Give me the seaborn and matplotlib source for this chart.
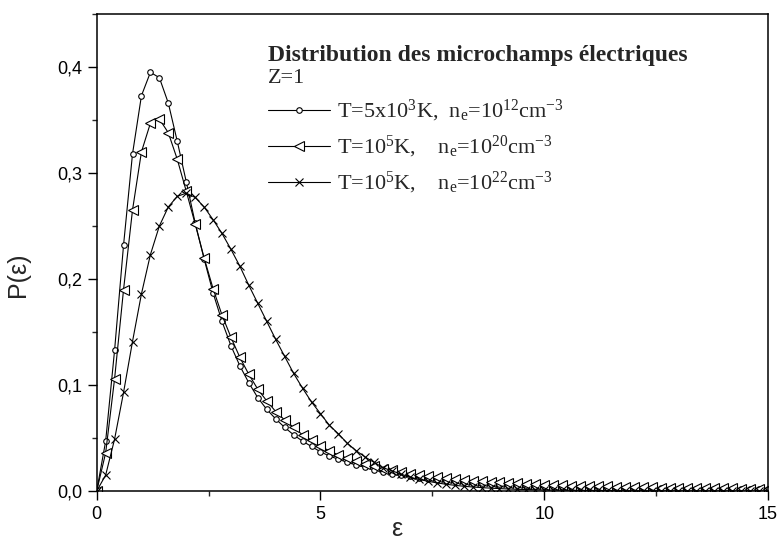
import numpy as np
import matplotlib
matplotlib.use("Agg")
import matplotlib.pyplot as plt
import seaborn as sns

# ---- data ----
eps = np.round(np.arange(0, 15.0001, 0.2), 1)

p_circle = [0.0, 0.047, 0.133, 0.232, 0.318, 0.373, 0.395, 0.390, 0.366, 0.330,
            0.292, 0.253, 0.219, 0.187, 0.160, 0.137, 0.118, 0.102, 0.088, 0.077,
            0.068, 0.060, 0.053, 0.047, 0.042, 0.037, 0.033, 0.030, 0.027, 0.0245,
            0.0222, 0.0200, 0.0180, 0.0164, 0.0150, 0.0137, 0.0126, 0.0116, 0.0107, 0.0099,
            0.0092, 0.0085, 0.0079, 0.0074, 0.0069, 0.0064, 0.0060, 0.0056, 0.0053, 0.0050,
            0.0047, 0.0044, 0.0042, 0.0039, 0.0037, 0.0035, 0.0033, 0.0032, 0.0030, 0.0029,
            0.0027, 0.0026, 0.0025, 0.0024, 0.0023, 0.0022, 0.0021, 0.0020, 0.0019, 0.0018,
            0.0018, 0.0017, 0.0016, 0.0016, 0.0015, 0.0015]

p_triangle = [0.0, 0.036, 0.106, 0.190, 0.265, 0.320, 0.347, 0.351, 0.338, 0.313,
              0.283, 0.252, 0.220, 0.191, 0.166, 0.145, 0.126, 0.110, 0.096, 0.085,
              0.075, 0.067, 0.060, 0.053, 0.048, 0.042, 0.038, 0.034, 0.031, 0.028,
              0.0255, 0.0233, 0.0212, 0.0194, 0.0178, 0.0164, 0.0151, 0.0140, 0.0130, 0.0121,
              0.0113, 0.0105, 0.0098, 0.0092, 0.0086, 0.0081, 0.0076, 0.0072, 0.0068, 0.0064,
              0.0061, 0.0058, 0.0055, 0.0052, 0.0049, 0.0047, 0.0045, 0.0043, 0.0041, 0.0039,
              0.0037, 0.0036, 0.0034, 0.0033, 0.0032, 0.0030, 0.0029, 0.0028, 0.0027, 0.0026,
              0.0025, 0.0024, 0.0023, 0.0023, 0.0022, 0.0021]

p_cross = [0.0, 0.015, 0.049, 0.093, 0.141, 0.186, 0.223, 0.250, 0.268, 0.278,
           0.281, 0.277, 0.268, 0.256, 0.243, 0.228, 0.212, 0.194, 0.177, 0.160,
           0.143, 0.127, 0.111, 0.097, 0.084, 0.073, 0.062, 0.054, 0.045, 0.038,
           0.032, 0.027, 0.022, 0.019, 0.016, 0.013, 0.011, 0.0092, 0.0077, 0.0064,
           0.0054, 0.0045, 0.0038, 0.0032, 0.0027, 0.0023, 0.0019, 0.0016, 0.0014, 0.0012,
           0.0010, 0.0009, 0.0008, 0.0007, 0.0006, 0.0005, 0.0005, 0.0004, 0.0004, 0.0003,
           0.0003, 0.0003, 0.0002, 0.0002, 0.0002, 0.0002, 0.0001, 0.0001, 0.0001, 0.0001,
           0.0001, 0.0001, 0.0001, 0.0001, 0.0001, 0.0001]

labels = [r"T=5x10$^{3}$K,  n$_{e}$=10$^{12}$cm$^{-3}$",
          r"T=10$^{5}$K,    n$_{e}$=10$^{20}$cm$^{-3}$",
          r"T=10$^{5}$K,    n$_{e}$=10$^{22}$cm$^{-3}$"]
heading = "Distribution des microchamps électriques"
subtitle = "Z=1"

xticks = [0, 5, 10, 15]
xticklabels = ["0", "5", "10", "15"]
yticks = [0.0, 0.1, 0.2, 0.3, 0.4]
yticklabels = ["0,0", "0,1", "0,2", "0,3", "0,4"]

# ---- style ----
sns.set_style("ticks")
plt.rcParams["font.family"] = ["Liberation Sans", "DejaVu Sans"]
plt.rcParams["mathtext.fontset"] = "custom"
plt.rcParams["mathtext.rm"] = "Liberation Serif"
plt.rcParams["mathtext.it"] = "Liberation Serif:italic"
plt.rcParams["mathtext.bf"] = "Liberation Serif:bold"
plt.rcParams["mathtext.default"] = "rm"

fig = plt.figure(figsize=(7.83, 5.44), dpi=100)
ax = fig.add_axes([0.1235, 0.0974, 0.8573, 0.8768])

common = dict(color="black", linewidth=0.8, markerfacecolor="white",
              markeredgecolor="black", markeredgewidth=0.8, ax=ax)
sns.lineplot(x=eps, y=p_circle, marker="o", markersize=4, label=labels[0], **common)
sns.lineplot(x=eps, y=p_triangle, marker="<", markersize=6.5, label=labels[1], **common)
sns.lineplot(x=eps, y=p_cross, marker="x", markersize=6, label=labels[2], **common)

ax.set_xlim(0, 15)
ax.set_ylim(0, 0.45)
ax.set_xticks(xticks)
ax.set_xticklabels(xticklabels)
ax.set_yticks(yticks)
ax.set_yticklabels(yticklabels)
ax.set_xticks([2.5, 7.5, 12.5], minor=True)
ax.set_yticks([0.05, 0.15, 0.25, 0.35, 0.45], minor=True)
ax.tick_params(axis="both", which="major", direction="out", length=6.5, width=1.0,
               labelsize=13, pad=4, colors="black")
ax.tick_params(axis="both", which="minor", direction="out", length=3.5, width=1.0)
ax.tick_params(top=False, right=False, which="both")
for s in ax.spines.values():
    s.set_visible(True)
    s.set_linewidth(1.1)
    s.set_color("black")

ax.set_xlabel("ε", fontsize=18)
ax.set_ylabel("P(ε)", fontsize=18)
ax.xaxis.set_label_coords(0.447, -0.055)
ax.yaxis.set_label_coords(-0.1, 0.453)

ax.text(0.255, 0.902, heading, transform=ax.transAxes, fontsize=17,
        fontweight="bold", family="Liberation Serif", va="baseline", ha="left")

leg = ax.legend(loc="upper left", bbox_to_anchor=(0.255, 0.885), frameon=False,
                title=subtitle, alignment="left",
                prop={"family": "Liberation Serif", "size": 16},
                title_fontproperties={"family": "Liberation Serif", "size": 16},
                handlelength=2.8, handletextpad=0.3, labelspacing=0.45,
                borderpad=0, borderaxespad=0)

fig.savefig("out.png", dpi=100)
